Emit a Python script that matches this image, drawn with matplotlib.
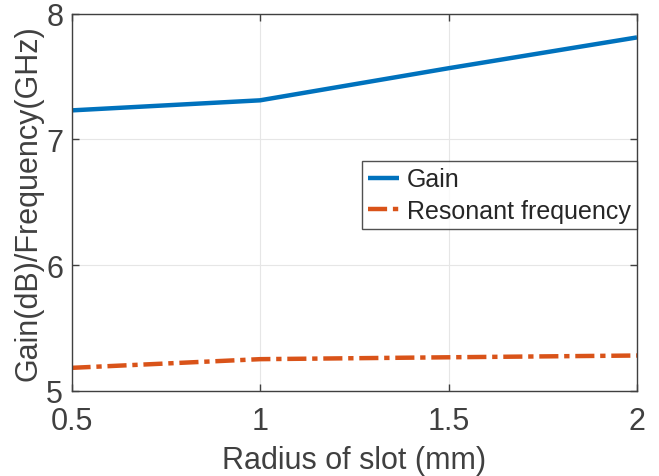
import numpy as np
import matplotlib
matplotlib.use('Agg')
import matplotlib.pyplot as plt

# data
Radius = [0.5, 1.0, 1.5, 2.0]
Gain = [7.23, 7.31, 7.565, 7.81]
ResFreq = [5.184, 5.253, 5.268, 5.282]

plt.rcParams['font.family'] = ['Liberation Sans', 'DejaVu Sans']

fig = plt.figure(figsize=(6.59, 4.77), dpi=100)
ax = fig.add_axes([71.5/659, 1-392/477, (637-71.5)/659, (392-14.5)/477])

ax.plot(Radius, Gain, color='#0072BD', lw=3.2, label='Gain', solid_capstyle='butt')
ax.plot(Radius, ResFreq, color='#D95319', lw=3.2, label='Resonant frequency',
        linestyle=(0, (4.3, 1.3, 1.2, 1.3)), dash_capstyle='butt')

ax.set_xlim(0.5, 2)
ax.set_ylim(5, 8)
ax.set_xticks([0.5, 1, 1.5, 2])
ax.set_xticklabels(['0.5', '1', '1.5', '2'])
ax.set_yticks([5, 6, 7, 8])
ax.grid(True, color='#e6e6e6', lw=0.8)
ax.set_axisbelow(True)
for s in ax.spines.values():
    s.set_color('#404040')
    s.set_linewidth(1.0)
ax.tick_params(direction='in', top=True, right=True, length=5, width=1.0,
               colors='#404040', labelsize=22)
ax.tick_params(axis='x', pad=11)
ax.tick_params(axis='y', pad=6)
ax.set_xlabel('Radius of slot (mm)', fontsize=22, color='#404040', labelpad=6)
ax.set_ylabel('Gain(dB)/Frequency(GHz)', fontsize=22, color='#404040', labelpad=2)

leg = ax.legend(loc='upper right', bbox_to_anchor=(1.0, 0.609), fontsize=18,
                frameon=True, fancybox=False, edgecolor='#262626', borderpad=0.25,
                handlelength=1.25, handletextpad=0.3, labelspacing=0.3, borderaxespad=0)
leg.get_frame().set_linewidth(1.0)
for t in leg.get_texts():
    t.set_color('#262626')

fig.savefig('out.png', dpi=100)
plt.close()
